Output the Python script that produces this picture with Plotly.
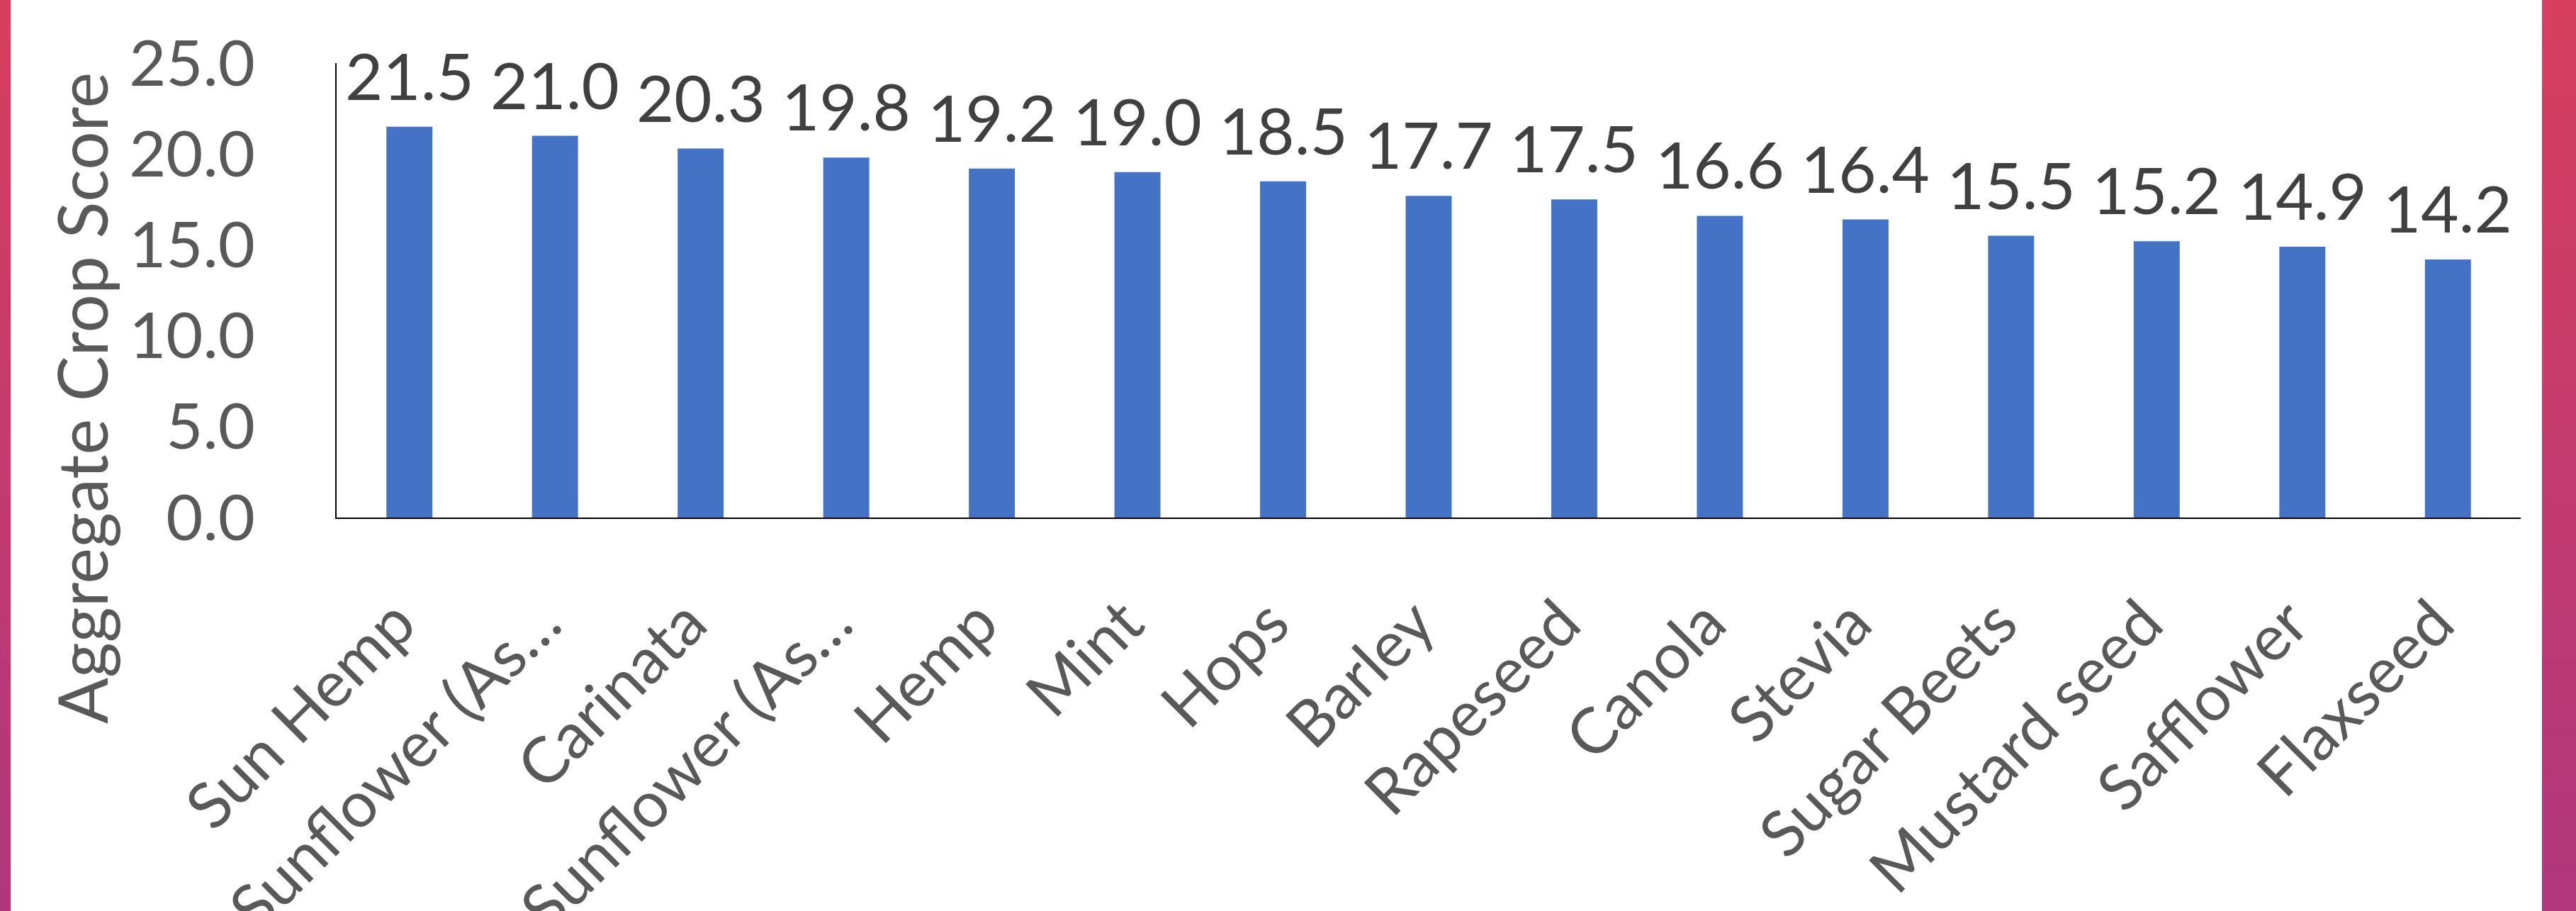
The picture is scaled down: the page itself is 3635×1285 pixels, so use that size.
import plotly.graph_objects as go

categories = ["Sun Hemp", "Sunflower (As\u2026", "Carinata", "Sunflower (As\u2026", "Hemp", "Mint", "Hops",
              "Barley", "Rapeseed", "Canola", "Stevia", "Sugar Beets", "Mustard seed", "Safflower", "Flaxseed"]
scores = [21.5, 21.0, 20.3, 19.8, 19.2, 19.0, 18.5, 17.7, 17.5, 16.6, 16.4, 15.5, 15.2, 14.9, 14.2]
y_ticks = [0, 5, 10, 15, 20, 25]
y_tick_labels = ["0.0", "5.0", "10.0", "15.0", "20.0", "25.0"]

W, H = 3635, 1285
L, R, T, B = 475, 78, 89, 555
pw, ph = W - L - R, H - T - B

FONT = "Lato, 'Open Sans', sans-serif"
positions = list(range(len(categories)))

fig = go.Figure()
fig.add_trace(go.Bar(x=positions, y=scores, marker=dict(color="#4472C4", line=dict(width=0)),
                     hoverinfo="skip", showlegend=False))

for xi, v in zip(positions, scores):
    fig.add_annotation(x=xi, y=v, text=f"{v:.1f}", showarrow=False, yanchor="bottom", xanchor="center",
                       yshift=16, font=dict(family=FONT, size=92, color="#404040"))

fig.add_annotation(xref="paper", yref="paper", x=(114 - L) / pw, y=(730 - 562) / ph, text="Aggregate Crop Score",
                   textangle=-90, showarrow=False, xanchor="center", yanchor="middle",
                   font=dict(family=FONT, size=96, color="#595959"))

# gradient side strips
def lerp(c1, c2, t):
    return "#%02x%02x%02x" % tuple(round(a + (b - a) * t) for a, b in zip(c1, c2))

top_c, bot_c = (0xD6, 0x3F, 0x5F), (0xB0, 0x37, 0x7C)
n = 40
shapes = []
for i in range(n):
    py0 = H * i / n
    py1 = H * (i + 1) / n + 1
    col = lerp(top_c, bot_c, (i + 0.5) / n)
    for px0, px1 in ((0, 15), (3587, W)):
        shapes.append(dict(type="rect", xref="paper", yref="paper",
                           x0=(px0 - L) / pw, x1=(px1 - L) / pw,
                           y0=(H - B - py1) / ph, y1=(H - B - py0) / ph,
                           fillcolor=col, line=dict(width=0), layer="below"))

fig.update_layout(
    width=W, height=H,
    margin=dict(l=L, r=R, t=T, b=B, autoexpand=False),
    paper_bgcolor="white", plot_bgcolor="white",
    bargap=0.684,
    shapes=shapes,
    hovermode=False,
    xaxis=dict(range=[-0.5, len(categories) - 0.5], tickmode="array", tickvals=positions, ticktext=categories,
               tickangle=-45, showline=True, linecolor="#000000", linewidth=2, ticks="",
               showgrid=False, zeroline=False, ticklabelstandoff=58, ticklabelshift=-18,
               tickfont=dict(family=FONT, size=90, color="#595959")),
    yaxis=dict(range=[0, 25], tickmode="array", tickvals=y_ticks, ticktext=y_tick_labels,
               showline=True, linecolor="#000000", linewidth=2, ticks="", showgrid=False, zeroline=False,
               ticklabelstandoff=95, tickfont=dict(family=FONT, size=90, color="#595959")),
)

fig.write_html("out.html", config={"displayModeBar": False},
               post_script="document.body.style.margin='0';document.body.style.overflow='hidden';")
